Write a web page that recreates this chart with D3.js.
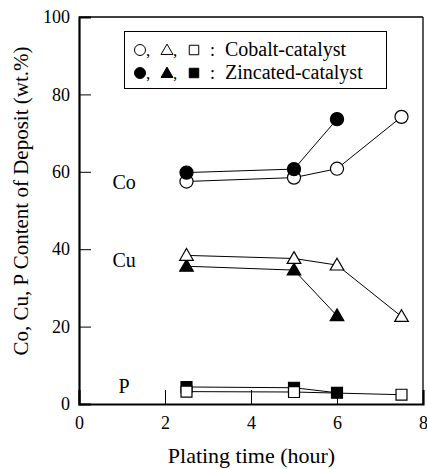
<!DOCTYPE html>
<html>
<head>
<meta charset="utf-8">
<script src="https://cdn.jsdelivr.net/npm/d3@7"></script>
<style>
  body { margin: 0; background: #fff; }
</style>
</head>
<body>
<div id="chart-area"></div>
<script>
// values (wt.%)
var xTicks = [0, 2, 4, 6, 8];
var yTicks = [0, 20, 40, 60, 80, 100];

var coCobaltX = [2.5, 5, 6, 7.5];
var coCobalt  = [57.5, 58.5, 60.8, 74.2];
var coZincX   = [2.5, 5, 6];
var coZinc    = [59.8, 60.7, 73.6];

var cuCobaltX = [2.5, 5, 6, 7.5];
var cuCobalt  = [38.4, 37.6, 35.9, 22.6];
var cuZincX   = [2.5, 5, 6];
var cuZinc    = [35.6, 34.6, 22.8];

var pZincX    = [2.5, 5, 6];
var pZinc     = [4.4, 4.2, 2.9];
var pCobaltX  = [2.5, 5, 7.5];
var pCobalt   = [3.2, 3.1, 2.4];

var elementLabels = [
    {name: "Co", value: 57},
    {name: "Cu", value: 37},
    {name: "P",  value: 4.5}
];

// drawing order: later series sits on top
var series = [
    {x: coCobaltX, y: coCobalt, shape: "circle", filled: false},
    {x: coZincX, y: coZinc, shape: "circle", filled: true},
    {x: cuZincX, y: cuZinc, shape: "triangle", filled: true},
    {x: cuCobaltX, y: cuCobalt, shape: "triangle", filled: false},
    {x: pZincX, y: pZinc, shape: "square", filled: true},
    {x: pCobaltX, y: pCobalt, shape: "square", filled: false}
];

// note: letter-spacing makes the renderer drop to a sans font, so none is used
var SERIF = "Liberation Serif";

var W = 427, H = 469;
var margin = {left: 79, right: 4, top: 17, bottom: 65};
var width = W - margin.left - margin.right;
var height = H - margin.top - margin.bottom;

var svg = d3.select("#chart-area")
    .append("svg")
        .attr("width", W)
        .attr("height", H);

var g = svg.append("g")
    .attr("transform", "translate(" + margin.left + ", " + margin.top + ")");

var x = d3.scaleLinear().domain([0, 8]).range([0, width]);
var y = d3.scaleLinear().domain([0, 100]).range([height, 0]);

// frame
g.append("line").attr("x1", 0).attr("x2", width).attr("y1", 0).attr("y2", 0)
    .attr("stroke", "#000").attr("stroke-width", 1.3);
g.append("line").attr("x1", width).attr("x2", width).attr("y1", 0).attr("y2", height)
    .attr("stroke", "#000").attr("stroke-width", 1.3);

// axes, ticks pointing inward
var xAxis = d3.axisBottom(x).tickValues(xTicks).tickSize(-14).tickPadding(12)
    .tickFormat(d3.format("d"));
var gx = g.append("g")
    .attr("class", "x axis")
    .attr("transform", "translate(0, " + height + ")")
    .call(xAxis);

var yAxis = d3.axisLeft(y).tickValues(yTicks).tickSize(-12).tickPadding(9)
    .tickFormat(d3.format("d"));
var gy = g.append("g")
    .attr("class", "y axis")
    .call(yAxis);

[gx, gy].forEach(function(a) {
    a.attr("font-family", SERIF);
    a.select(".domain").attr("stroke", "#000").attr("stroke-width", 2.2);
    a.selectAll(".tick line").attr("stroke", "#000").attr("stroke-width", 1);
    a.selectAll(".tick text").attr("font-size", "18px")
        .attr("font-family", SERIF).attr("fill", "#000");
});

// x label
g.append("text")
    .attr("x", 251.5 - margin.left)
    .attr("y", height + 59)
    .attr("font-size", "22px")
    .attr("text-anchor", "middle")
    .attr("font-family", SERIF)
    .text("Plating time (hour)");

// y label
g.append("text")
    .attr("transform", "translate(" + (-51) + ", " + (201 - margin.top) + ") rotate(-90)")
    .attr("font-size", "21px")
    .attr("text-anchor", "middle")
    .attr("font-family", SERIF)
    .text("Co, Cu, P Content of Deposit (wt.%)");

// element labels
g.selectAll(".elabel")
    .data(elementLabels)
    .enter()
    .append("text")
        .attr("class", "elabel")
        .attr("x", x(1.05))
        .attr("y", function(d) { return y(d.value) + 6; })
        .attr("font-size", "20px")
        .attr("text-anchor", "middle")
        .attr("font-family", SERIF)
        .text(function(d) { return d.name; });

var line = d3.line()
    .x(function(d) { return x(d[0]); })
    .y(function(d) { return y(d[1]); });

function symbolPath(shape, size) {
    var type = shape === "circle" ? d3.symbolCircle
        : shape === "triangle" ? d3.symbolTriangle : d3.symbolSquare;
    return d3.symbol().type(type).size(size)();
}
var markerSize = {circle: 135, triangle: 80, square: 120};

// lines first
series.forEach(function(s) {
    var pts = s.x.map(function(v, i) { return [v, s.y[i]]; });
    g.append("path")
        .datum(pts)
        .attr("d", line)
        .attr("fill", "none")
        .attr("stroke", "#000")
        .attr("stroke-width", 1);
});

// markers
series.forEach(function(s) {
    var pts = s.x.map(function(v, i) { return [v, s.y[i]]; });
    g.selectAll(null)
        .data(pts)
        .enter()
        .append("path")
            .attr("d", symbolPath(s.shape, markerSize[s.shape]))
            .attr("transform", function(d) {
                var dy = s.shape === "triangle" ? 1 : 0;
                return "translate(" + x(d[0]) + "," + (y(d[1]) + dy) + ")";
            })
            .attr("fill", s.filled ? "#000" : "#fff")
            .attr("stroke", "#000")
            .attr("stroke-width", 1.2);
});

// legend
var legend = svg.append("g");
legend.append("rect")
    .attr("x", 124.5).attr("y", 31.5)
    .attr("width", 262).attr("height", 57)
    .attr("fill", "#fff").attr("stroke", "#000").attr("stroke-width", 1);

var legendRows = [
    {label: "Cobalt-catalyst", filled: false},
    {label: "Zincated-catalyst", filled: true}
];
var legendShapes = ["circle", "triangle", "square"];
var legendShapeX = [140, 167, 194];
var legendSize = {circle: 95, triangle: 62, square: 90};

legendRows.forEach(function(r, i) {
    var cy = 50 + i * 23;
    legendShapes.forEach(function(sh, j) {
        legend.append("path")
            .attr("d", symbolPath(sh, legendSize[sh]))
            .attr("transform", "translate(" + legendShapeX[j] + "," + (cy + (sh === "triangle" ? 1 : 0)) + ")")
            .attr("fill", r.filled ? "#000" : "#fff")
            .attr("stroke", "#000")
            .attr("stroke-width", 1);
        if (j < 2) {
            legend.append("text")
                .attr("x", legendShapeX[j] + 6)
                .attr("y", cy + 6)
                .attr("font-size", "17px")
                .attr("font-family", SERIF)
                .text(",");
        }
    });
    legend.append("text")
        .attr("x", 210)
        .attr("y", cy + 6)
        .attr("font-size", "18px")
        .attr("font-family", SERIF)
        .text(":");
    legend.append("text")
        .attr("x", 225)
        .attr("y", cy + 6)
        .attr("font-size", "20px")
        .attr("font-family", SERIF)
        .text(r.label);
});
</script>
</body>
</html>
